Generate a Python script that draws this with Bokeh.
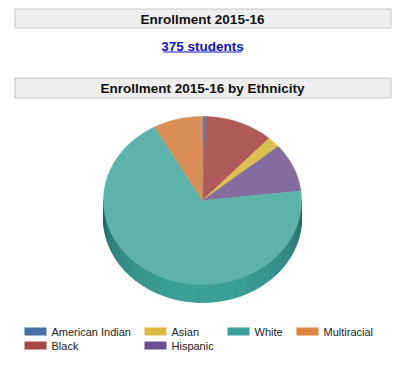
import numpy as np
from bokeh.plotting import figure
from bokeh.models import Range1d
from bokeh.core.properties import value
from bokeh.embed import file_html
from bokeh.resources import INLINE

# ---- data ----
categories = ["American Indian", "Black", "Asian", "Hispanic", "White", "Multiracial"]
counts = [2, 42, 8, 35, 258, 30]
legend_order = ["American Indian", "Asian", "White", "Multiracial", "Black", "Hispanic"]
total_label = "375 students"
title1 = "Enrollment 2015-16"
title2 = "Enrollment 2015-16 by Ethnicity"
legend_colors = ["#4572A7", "#AA4643", "#D9BA3D", "#6A5090", "#3DA096", "#DB843D"]
face_colors = ["#4E7BB0", "#AF5A59", "#DCC14E", "#846D9E", "#5CB3AA", "#DA8E55"]

# ---- layout ----
W, H = 402, 368
p = figure(width=W, height=H, output_backend="svg", toolbar_location=None,
           x_range=Range1d(0, W), y_range=Range1d(H, 0),
           min_border=0)
p.axis.visible = False
p.grid.visible = False
p.outline_line_color = None
p.background_fill_color = "white"
p.border_fill_color = "white"

FONT = value("Liberation Sans")

def bar(y0, y1, label):
    p.quad(left=[14.5], right=[390.5], top=[y0], bottom=[y1],
           fill_color="#EEEEEE", line_color="#C8C8C8", line_width=1)
    p.text(x=[202], y=[(y0 + y1) / 2 + 0.5], text=[label], text_font=FONT,
           text_font_size="13.5px", text_font_style="bold", text_color="#111111",
           text_align="center", text_baseline="middle")

bar(8.5, 27.5, title1)
bar(77.5, 97.5, title2)

# link text
p.text(x=[202], y=[45.5], text=[total_label], text_font=FONT, text_font_size="13.5px",
       text_font_style="bold", text_color="#1010CC", text_align="center",
       text_baseline="middle")
p.segment(x0=[163], x1=[241], y0=[51.5], y1=[51.5], line_color="#1010CC", line_width=1)

# ---- 3D pie ----
cx, cy, rx, ry, depth = 202, 200, 99, 84, 18
vals = np.array(counts, dtype=float)
fr = vals / vals.sum()
ends = np.cumsum(fr) * 2 * np.pi
starts = ends - fr * 2 * np.pi

def pt(t, dy=0.0):
    return cx + rx * np.sin(t), cy - ry * np.cos(t) + dy

def side_color(t):
    k = abs(np.cos(t - np.pi))  # 1 at bottom, 0 at the sides
    dark = np.array([0x1C, 0x58, 0x53])
    light = np.array([0x3B, 0xA0, 0x96])
    c = dark + (light - dark) * (k ** 0.6)
    return "#%02x%02x%02x" % tuple(int(v) for v in c)

for i, (s, e) in enumerate(zip(starts, ends)):
    a = max(s, np.pi / 2)
    b = min(e, 3 * np.pi / 2)
    if b <= a:
        continue
    n = max(2, int((b - a) / (np.pi / 90)))
    ts = np.linspace(a, b, n + 1)
    xs, ys, cs = [], [], []
    for t0, t1 in zip(ts[:-1], ts[1:]):
        x0, y0 = pt(t0)
        x1, y1 = pt(t1)
        xs.append([x0, x1, x1, x0])
        ys.append([y0, y1, y1 + depth, y0 + depth])
        cs.append(side_color((t0 + t1) / 2))
    p.patches(xs=xs, ys=ys, fill_color=cs, line_color=cs, line_width=0.8)

for i, (s, e) in enumerate(zip(starts, ends)):
    ts = np.linspace(s, e, max(3, int((e - s) / 0.02)))
    ex, ey = pt(ts)
    xs = np.concatenate([[cx], ex])
    ys = np.concatenate([[cy], ey])
    p.patch(x=xs, y=ys, fill_color=face_colors[i], line_color=face_colors[i], line_width=0.5)

# ---- legend ----
col_x = [24, 144, 227, 296]
row_y = [331, 345]
for j, name in enumerate(legend_order):
    i = categories.index(name)
    c, r = j % 4, j // 4
    x0 = col_x[c]
    y0 = row_y[r]
    p.quad(left=[x0], right=[x0 + 22], top=[y0 - 4], bottom=[y0 + 4],
           fill_color=legend_colors[i], line_color=None)
    p.text(x=[x0 + 27], y=[y0 + 0.5], text=[name], text_font=FONT, text_font_size="11px",
           text_color="#222222", text_align="left", text_baseline="middle")

open("out.html", "w").write(file_html(p, INLINE))
